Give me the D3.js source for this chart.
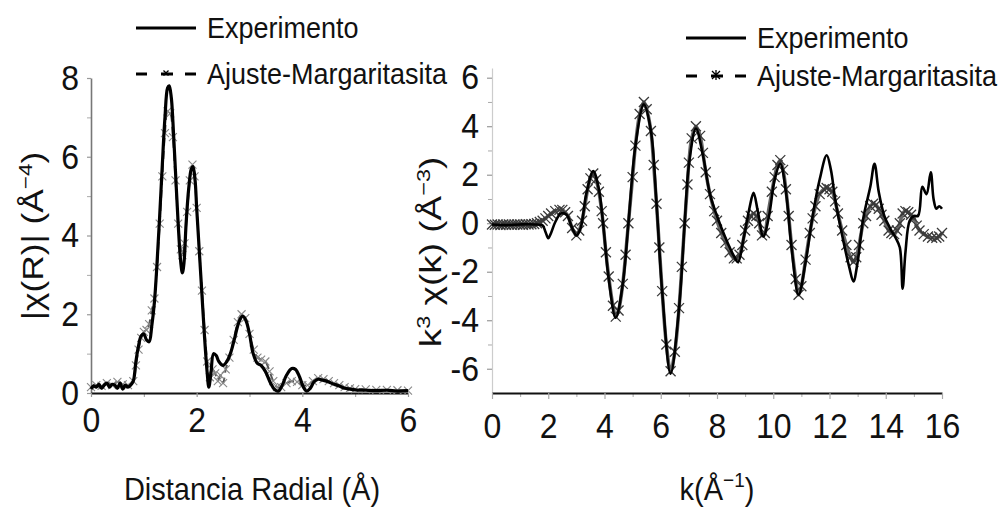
<!DOCTYPE html>
<html>
<head>
<meta charset="utf-8">
<script src="https://cdn.jsdelivr.net/npm/d3@7"></script>
<style>
  body { margin: 0; background: #fff; }
  svg { display: block; }
  text { font-family: "Liberation Sans", Arial, sans-serif; fill: #111; }
</style>
</head>
<body>
<svg id="chart" width="1004" height="514"></svg>
<script>
// ---- data ----
var seriesNames = ["Experimento", "Ajuste-Margaritasita"];

// left panel: |chi(R)| vs R
var rExpR = [0,0.05,0.1,0.15,0.2,0.25,0.3,0.35,0.4,0.45,0.5,0.55,0.6,0.65,0.7,0.75,0.8,0.85,0.9,0.95,1.0,1.05,1.1,1.15,1.2,1.25,1.3,1.35,1.4,1.45,1.48,1.52,1.55,1.6,1.65,1.7,1.73,1.76,1.8,1.85,1.9,1.93,1.97,2.0,2.05,2.1,2.15,2.2,2.23,2.27,2.32,2.37,2.42,2.5,2.57,2.65,2.72,2.8,2.87,2.93,3.0,3.07,3.15,3.22,3.3,3.4,3.48,3.55,3.62,3.7,3.8,3.87,3.95,4.02,4.08,4.15,4.22,4.3,4.4,4.5,4.6,4.7,4.8,4.9,5.0,5.2,5.4,5.6,5.8,6.0];
var rExpV = [0.1,0.18,0.15,0.22,0.12,0.2,0.25,0.15,0.22,0.2,0.12,0.25,0.1,0.2,0.15,0.2,0.3,0.8,1.2,1.45,1.5,1.35,1.3,1.7,2.3,3.3,4.5,5.8,7.0,7.75,7.8,7.5,6.9,5.6,4.3,3.3,3.05,3.3,4.3,5.2,5.7,5.75,5.4,4.7,3.6,2.5,1.4,0.5,0.15,0.5,1.0,0.95,0.8,0.7,0.8,1.05,1.4,1.8,1.95,1.85,1.5,1.0,0.75,0.7,0.55,0.25,0.08,0.05,0.2,0.45,0.62,0.6,0.4,0.15,0.05,0.12,0.28,0.35,0.32,0.28,0.22,0.18,0.12,0.1,0.08,0.07,0.06,0.07,0.05,0.06];
var rFitR = [0,0.1,0.2,0.3,0.4,0.5,0.6,0.7,0.8,0.85,0.9,0.95,1.0,1.05,1.1,1.15,1.2,1.25,1.3,1.35,1.4,1.45,1.5,1.55,1.6,1.65,1.7,1.73,1.77,1.82,1.87,1.92,1.96,2.0,2.05,2.1,2.15,2.2,2.25,2.3,2.35,2.4,2.45,2.5,2.55,2.62,2.7,2.78,2.85,2.92,3.0,3.08,3.15,3.22,3.3,3.38,3.45,3.52,3.6,3.7,3.8,3.9,4.0,4.1,4.2,4.3,4.4,4.5,4.6,4.7,4.8,4.9,5.0,5.2,5.4,5.6,5.8,6.0];
var rFitV = [0.15,0.2,0.18,0.25,0.2,0.28,0.22,0.2,0.3,0.7,1.1,1.4,1.55,1.6,1.75,2.1,2.4,3.2,4.3,5.5,6.6,7.15,7.1,6.5,5.4,4.3,3.65,3.5,3.8,4.6,5.4,5.8,5.5,4.7,3.6,2.6,1.6,0.8,0.4,0.6,0.5,0.3,0.45,0.25,0.6,0.9,1.35,1.8,2.0,1.9,1.5,1.1,0.9,0.85,0.8,0.55,0.3,0.15,0.15,0.25,0.3,0.28,0.2,0.2,0.3,0.38,0.35,0.3,0.25,0.2,0.15,0.12,0.1,0.09,0.08,0.08,0.07,0.06];
var rXTicks = [0, 2, 4, 6];
var rYTicks = [0, 2, 4, 6, 8];

// right panel: k^3 chi(k) vs k
var kExpK = [0,0.5,1,1.5,1.8,1.9,2.0,2.1,2.25,2.45,2.65,2.85,3.0,3.15,3.35,3.6,3.8,3.95,4.15,4.4,4.65,4.85,5.1,5.4,5.65,5.85,6.05,6.35,6.65,6.85,7.0,7.25,7.5,7.75,8.0,8.3,8.6,8.75,8.95,9.15,9.3,9.45,9.65,9.85,10.05,10.25,10.45,10.65,10.9,11.15,11.4,11.65,11.9,12.05,12.2,12.45,12.7,12.85,13.0,13.2,13.45,13.6,13.75,13.95,14.15,14.35,14.5,14.6,14.7,14.85,15.0,15.15,15.3,15.45,15.6,15.7,15.8,15.9,16.0];
var kExpV = [-0.05,-0.08,-0.05,-0.05,-0.1,-0.35,-0.62,-0.4,0.05,0.4,0.35,-0.2,-0.5,-0.2,1.2,2.15,1.4,0,-2.3,-3.9,-2.5,0,3.2,4.9,3.8,0.8,-2.8,-6.2,-3.5,0,2.4,3.9,2.8,1.2,0.3,-0.6,-1.35,-1.6,-0.6,0.6,1.25,0.5,-0.55,0.3,1.8,2.45,1.3,-1.0,-2.95,-1.6,0.3,1.8,2.8,2.2,1.0,-0.5,-1.8,-2.4,-1.6,0.2,1.5,2.45,1.3,0.3,-0.2,-0.6,-1.0,-2.7,-1.2,0.1,0.3,0.3,1.5,1.2,2.1,1.0,0.6,0.7,0.6];
var kFitK = [0,0.1,0.2,0.3,0.4,0.5,0.6,0.7,0.8,0.9,1.0,1.1,1.2,1.3,1.4,1.5,1.6,1.7,1.8,1.9,2.0,2.1,2.25,2.4,2.5,2.6,2.7,2.85,3.0,3.1,3.2,3.3,3.4,3.5,3.6,3.7,3.8,3.9,3.95,4.05,4.15,4.3,4.4,4.5,4.65,4.75,4.85,5.0,5.1,5.25,5.4,5.5,5.65,5.75,5.85,5.95,6.05,6.2,6.35,6.5,6.65,6.75,6.85,6.95,7.0,7.1,7.25,7.4,7.5,7.6,7.75,7.9,8.0,8.15,8.3,8.45,8.6,8.7,8.8,8.9,9.0,9.1,9.2,9.3,9.4,9.5,9.6,9.7,9.8,9.95,10.05,10.15,10.25,10.35,10.45,10.55,10.65,10.8,10.9,11.0,11.15,11.3,11.4,11.5,11.65,11.8,11.9,12.0,12.1,12.2,12.3,12.45,12.6,12.75,12.85,12.95,13.05,13.2,13.3,13.45,13.55,13.65,13.75,13.85,13.95,14.1,14.2,14.3,14.4,14.5,14.6,14.7,14.8,14.9,15.0,15.1,15.2,15.35,15.5,15.65,15.8,15.9,16.0];
var kFitV = [-0.05,-0.06,-0.05,-0.07,-0.05,-0.06,-0.05,-0.06,-0.05,-0.05,-0.05,-0.06,-0.04,-0.05,-0.04,-0.03,0.0,0.05,0.1,0.2,0.3,0.4,0.5,0.55,0.55,0.45,0.3,-0.2,-0.5,-0.3,0.1,0.7,1.4,1.85,2.05,1.8,1.3,0.5,0,-1.2,-2.2,-3.4,-3.85,-3.6,-2.5,-1.3,0,1.9,3.2,4.5,5.0,4.7,3.8,2.4,0.8,-1.0,-2.8,-5.0,-6.1,-5.3,-3.5,-1.8,0,1.6,2.5,3.5,4.0,3.6,2.9,2.1,1.2,0.5,0.1,-0.4,-0.8,-1.2,-1.45,-1.45,-1.3,-0.9,-0.3,0.1,0.3,0.4,0.3,0.0,-0.5,-0.4,0.3,1.3,1.9,2.4,2.6,2.2,1.4,0.3,-0.9,-2.3,-2.95,-2.6,-1.5,-0.4,0.2,0.7,1.2,1.4,1.45,1.4,1.3,0.9,0.4,-0.3,-0.9,-1.4,-1.6,-1.4,-0.9,0.0,0.3,0.7,0.8,0.75,0.6,0.35,0.1,-0.3,-0.4,-0.45,-0.3,0.0,0.4,0.5,0.45,0.35,0.2,-0.1,-0.3,-0.45,-0.55,-0.6,-0.6,-0.55,-0.4];
var kXTicks = [0, 2, 4, 6, 8, 10, 12, 14, 16];
var kYTicks = [-6, -4, -2, 0, 2, 4, 6];

var svg = d3.select("#chart");
var TEXT_STRETCH = 1.1; // the original lettering is a bit taller than Arial

function translate(x, y) { return "translate(" + x + "," + y + ")"; }

function zip(xs, ys) {
	return xs.map(function(x, i) { return [x, ys[i]]; });
}

function crossPath(s) {
	return "M" + (-s) + "," + (-s) + "L" + s + "," + s + "M" + (-s) + "," + s + "L" + s + "," + (-s);
}

// plain integers, hyphen minus like the original
var tickFmt = function(d) { return String(d); };

function styleAxis(g, lineColor, lineWidth, tickColor) {
	g.select(".domain").attr("stroke", lineColor).attr("stroke-width", lineWidth);
	g.selectAll(".tick line").attr("stroke", tickColor).attr("stroke-width", 1.2);
	g.selectAll(".tick text")
		.attr("fill", "#111")
		.attr("font-size", 32)
		.attr("font-family", "'Liberation Sans', Arial, sans-serif")
		.attr("transform", "scale(1," + TEXT_STRETCH + ")");
}

// ---------------- left panel ----------------
var xL = d3.scaleLinear().domain([0, 6]).range([91, 408]);
var yL = d3.scaleLinear().domain([0, 8]).range([393, 78]);

var left = svg.append("g").attr("class", "left");

// minor ticks
left.append("g")
	.attr("transform", translate(91, 0))
	.call(d3.axisLeft(yL).tickValues([1, 3, 5, 7]).tickSize(4).tickFormat(""))
	.call(function(g) { g.select(".domain").remove(); g.selectAll("line").attr("stroke", "#aaa"); });
left.append("g")
	.attr("transform", translate(0, 393))
	.call(d3.axisBottom(xL).tickValues([1, 3, 5]).tickSize(4).tickFormat(""))
	.call(function(g) { g.select(".domain").remove(); g.selectAll("line").attr("stroke", "#999"); });

var lyAxis = left.append("g")
	.attr("transform", translate(91, 0))
	.call(d3.axisLeft(yL).tickValues(rYTicks).tickFormat(tickFmt).tickSize(4).tickPadding(8).tickSizeOuter(0));
styleAxis(lyAxis, "#777", 1.6, "#999");

var lxAxis = left.append("g")
	.attr("transform", translate(0, 393))
	.call(d3.axisBottom(xL).tickValues(rXTicks).tickFormat(tickFmt).tickSize(4).tickPadding(9).tickSizeOuter(0));
styleAxis(lxAxis, "#111", 2, "#999");

var lineL = d3.line()
	.x(function(d) { return xL(d[0]); })
	.y(function(d) { return yL(d[1]); })
	.curve(d3.curveCatmullRom.alpha(0.5));

var fitL = zip(rFitR, rFitV);
left.append("path")
	.datum(fitL)
	.attr("fill", "none")
	.attr("stroke", "#555")
	.attr("stroke-width", 2)
	.attr("stroke-dasharray", "8,5")
	.attr("d", lineL);
left.append("g").selectAll("path")
	.data(fitL)
	.enter().append("path")
	.attr("transform", function(d) { return translate(xL(d[0]), yL(d[1])); })
	.attr("d", crossPath(4))
	.attr("stroke", "#888")
	.attr("stroke-width", 1.1)
	.attr("fill", "none");

left.append("path")
	.datum(zip(rExpR, rExpV))
	.attr("fill", "none")
	.attr("stroke", "#000")
	.attr("stroke-width", 3.2)
	.attr("stroke-linejoin", "round")
	.attr("d", lineL);

// y label
left.append("text")
	.attr("transform", translate(43, 236) + " rotate(-90) scale(1.07,0.88)")
	.attr("text-anchor", "middle")
	.attr("font-size", 33)
	.call(function(t) {
		t.append("tspan").text("|χ(R)| (Å");
		t.append("tspan").attr("dy", -13).attr("font-size", 21).text("−4");
		t.append("tspan").attr("dy", 13).text(")");
	});

left.append("text")
	.attr("transform", translate(252, 500) + " scale(1," + TEXT_STRETCH + ")")
	.attr("text-anchor", "middle")
	.attr("font-size", 29)
	.text("Distancia Radial (Å)");

// ---------------- right panel ----------------
var xR = d3.scaleLinear().domain([0, 16]).range([492, 942]);
var yR = d3.scaleLinear().domain([-7, 6.4]).range([393, 68]);

var right = svg.append("g").attr("class", "right");

right.append("g")
	.attr("transform", translate(492, 0))
	.call(d3.axisLeft(yR).tickValues([-5, -3, -1, 1, 3, 5]).tickSize(4).tickFormat(""))
	.call(function(g) { g.select(".domain").remove(); g.selectAll("line").attr("stroke", "#aaa"); });
right.append("g")
	.attr("transform", translate(0, 393))
	.call(d3.axisBottom(xR).tickValues([1, 3, 5, 7, 9, 11, 13, 15]).tickSize(4).tickFormat(""))
	.call(function(g) { g.select(".domain").remove(); g.selectAll("line").attr("stroke", "#aaa"); });

var ryAxis = right.append("g")
	.attr("transform", translate(492, 0))
	.call(d3.axisLeft(yR).tickValues(kYTicks).tickFormat(tickFmt).tickSize(5).tickPadding(8).tickSizeOuter(0));
styleAxis(ryAxis, "#ccc", 1.2, "#999");

var rxAxis = right.append("g")
	.attr("transform", translate(0, 393))
	.call(d3.axisBottom(xR).tickValues(kXTicks).tickFormat(tickFmt).tickSize(6).tickPadding(12).tickSizeOuter(0));
styleAxis(rxAxis, "#111", 2, "#aaa");

var lineR = d3.line()
	.x(function(d) { return xR(d[0]); })
	.y(function(d) { return yR(d[1]); })
	.curve(d3.curveCatmullRom.alpha(0.5));

var fitR = zip(kFitK, kFitV);
right.append("path")
	.datum(fitR)
	.attr("fill", "none")
	.attr("stroke", "#666")
	.attr("stroke-width", 3.5)
	.attr("d", lineR);
right.append("g").selectAll("path")
	.data(fitR)
	.enter().append("path")
	.attr("transform", function(d) { return translate(xR(d[0]), yR(d[1])); })
	.attr("d", crossPath(5))
	.attr("stroke", "#3a3a3a")
	.attr("stroke-width", 1.3)
	.attr("fill", "none");

right.append("path")
	.datum(zip(kExpK, kExpV))
	.attr("fill", "none")
	.attr("stroke", "#000")
	.attr("stroke-width", 2.6)
	.attr("stroke-linejoin", "round")
	.attr("d", lineR);

right.append("text")
	.attr("transform", translate(441, 252) + " rotate(-90) scale(1.12,0.88)")
	.attr("text-anchor", "middle")
	.attr("font-size", 33)
	.call(function(t) {
		t.append("tspan").text("k");
		t.append("tspan").attr("dy", -13).attr("font-size", 21).text("3");
		t.append("tspan").attr("dy", 13).text(" χ(k) (Å");
		t.append("tspan").attr("dy", -13).attr("font-size", 21).text("−3");
		t.append("tspan").attr("dy", 13).text(")");
	});

right.append("text")
	.attr("transform", translate(717, 500) + " scale(1," + TEXT_STRETCH + ")")
	.attr("text-anchor", "middle")
	.attr("font-size", 29)
	.call(function(t) {
		t.append("tspan").text("k(Å");
		t.append("tspan").attr("dy", -12).attr("font-size", 19).text("−1");
		t.append("tspan").attr("dy", 12).text(")");
	});

// ---------------- legends ----------------
function drawLegend(parent, x0, rows, fitMarker) {
	var lg = parent.append("g").attr("class", "legend");
	var items = lg.selectAll("g")
		.data(seriesNames)
		.enter().append("g")
		.attr("transform", function(d, i) { return translate(x0, rows[i]); });

	items.each(function(d, i) {
		var g = d3.select(this);
		if (i === 0) {
			g.append("line").attr("x1", 0).attr("x2", 60).attr("y1", 0).attr("y2", 0)
				.attr("stroke", "#000").attr("stroke-width", 3);
		} else {
			[[0, 11], [25, 37], [49, 60]].forEach(function(seg) {
				g.append("line").attr("x1", seg[0]).attr("x2", seg[1]).attr("y1", 0).attr("y2", 0)
					.attr("stroke", "#000").attr("stroke-width", 3);
			});
			g.append("path").attr("transform", translate(30, -1)).attr("d", fitMarker)
				.attr("stroke", "#000").attr("stroke-width", 1.3).attr("fill", "none");
		}
		g.append("text")
			.attr("transform", translate(71, 10) + " scale(1," + TEXT_STRETCH + ")")
			.attr("font-size", 27)
			.text(d);
	});
}

drawLegend(svg, 136, [28, 74], crossPath(2.5));
drawLegend(svg, 686, [38, 76], crossPath(4) + "M0,-5L0,5");
</script>
</body>
</html>
